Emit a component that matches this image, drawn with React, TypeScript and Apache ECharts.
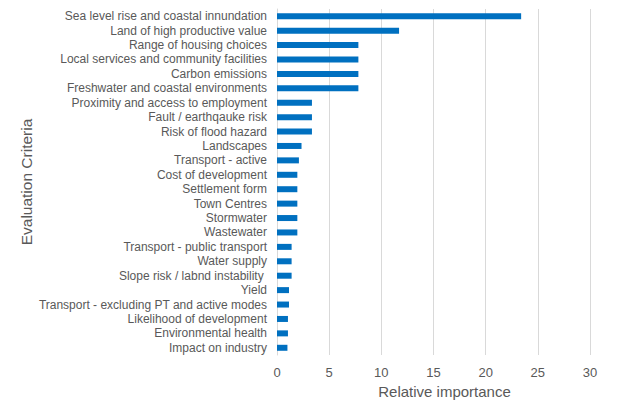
import React, { useEffect, useRef } from "react";
import * as echarts from "echarts";

const categories = [
  "Sea level rise and coastal innundation",
  "Land of high productive value",
  "Range of housing choices",
  "Local services and community facilities",
  "Carbon emissions",
  "Freshwater and coastal environments",
  "Proximity and access to employment",
  "Fault / earthqauke risk",
  "Risk of flood hazard",
  "Landscapes",
  "Transport - active",
  "Cost of development",
  "Settlement form",
  "Town Centres",
  "Stormwater",
  "Wastewater",
  "Transport - public transport",
  "Water supply",
  "Slope risk / labnd instability ",
  "Yield",
  "Transport - excluding PT and active modes",
  "Likelihood of development",
  "Environmental health",
  "Impact on industry",
];

const values = [
  23.4, 11.7, 7.8, 7.8, 7.8, 7.8, 3.35, 3.35, 3.35, 2.35, 2.1, 1.95, 1.95, 1.95,
  1.95, 1.95, 1.4, 1.4, 1.4, 1.15, 1.15, 1.05, 1.05, 1.0,
];

const xTicks = { min: 0, max: 30, interval: 5 };

export default function App() {
  const ref = useRef<HTMLDivElement>(null);
  useEffect(() => {
    if (!ref.current) return;
    const chart = echarts.init(ref.current, undefined, { renderer: "svg" });
    const font = "'Liberation Sans', Arial, sans-serif";
    chart.setOption({
      animation: false,
      grid: { left: 277, right: 46, top: 9, bottom: 61, containLabel: false },
      xAxis: {
        type: "value",
        min: xTicks.min,
        max: xTicks.max,
        interval: xTicks.interval,
        name: "Relative importance",
        nameLocation: "middle",
        nameGap: 29,
        nameTextStyle: { color: "#595959", fontSize: 15, fontFamily: font, padding: [0, 0, 0, 22] },
        axisLabel: { color: "#595959", fontSize: 13, fontFamily: font, margin: 11 },
        axisLine: { show: false },
        axisTick: { show: false },
        splitLine: { show: true, lineStyle: { color: "#d9d9d9", width: 1 } },
      },
      yAxis: {
        type: "category",
        data: categories,
        inverse: true,
        name: "Evaluation Criteria",
        nameLocation: "middle",
        nameGap: 231,
        nameRotate: 90,
        nameTextStyle: { color: "#595959", fontSize: 15.5, fontFamily: font },
        axisLabel: { color: "#595959", fontSize: 12, fontFamily: font, margin: 10, interval: 0 },
        axisLine: { show: true, lineStyle: { color: "#d9d9d9" } },
        axisTick: { show: false },
      },
      series: [
        {
          type: "bar",
          data: values,
          barWidth: 6,
          itemStyle: { color: "#0070C0" },
        },
      ],
    });
    return () => chart.dispose();
  }, []);
  return <div ref={ref} style={{ width: 636, height: 416, margin: -8 }} />;
}
